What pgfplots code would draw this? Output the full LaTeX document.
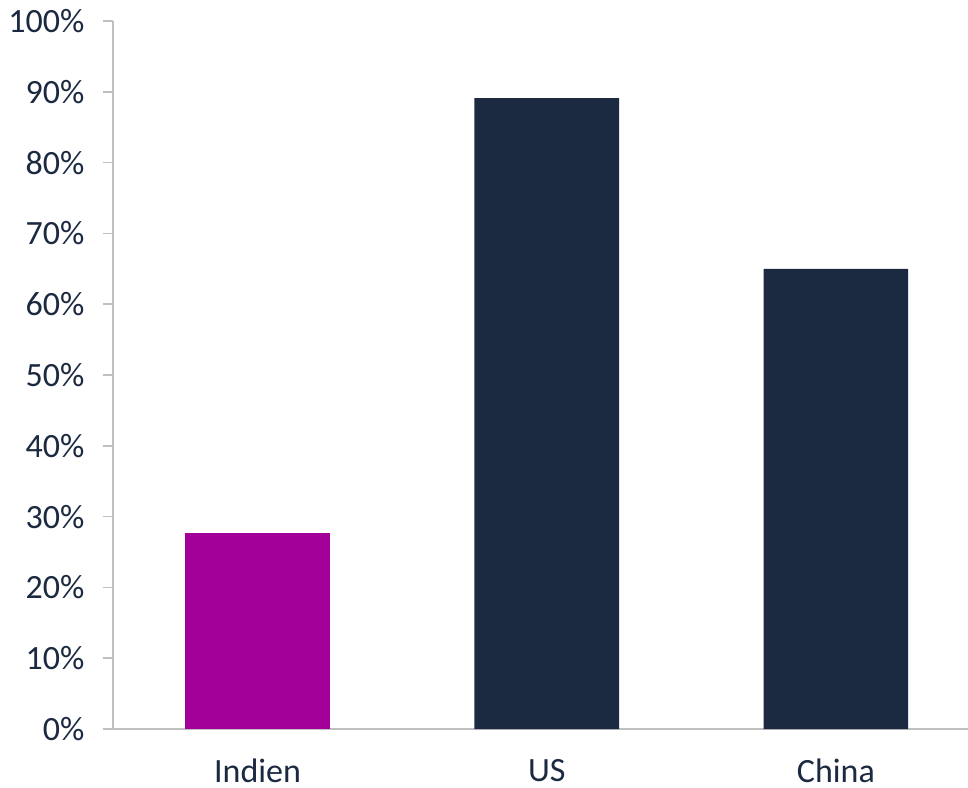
\documentclass[border=0pt]{standalone}
\usepackage{pgfplots}
\pgfplotsset{compat=1.18}
\usepackage{fontspec}
\setmainfont{Carlito}
\definecolor{navy}{HTML}{1B2A41}
\definecolor{mag}{HTML}{A3009A}
\definecolor{axgray}{HTML}{BFBFBF}
\begin{document}
\fontsize{34}{40}\selectfont
\begin{tikzpicture}
\begin{axis}[
  scale only axis, width=855pt, height=708pt,
  xmin=-0.5, xmax=2.457, ymin=0, ymax=100,
  axis x line*=bottom, axis y line*=left,
  axis line style={axgray, line width=1.5pt},
  tick align=outside,
  major tick length=10pt,
  tick style={axgray, line width=1.5pt},
  /pgf/number format/assume math mode=true,
  ytick={0,10,...,100},
  yticklabel={\pgfmathprintnumber{\tick}\%},
  yticklabel style={xshift=-7pt, text=navy, font=\fontsize{34}{40}\selectfont},
  xtick={0,1,2},
  xticklabels={Indien,US,China},
  xtick style={draw=none},
  xticklabel style={inner sep=0pt, yshift=-20pt, text=navy, font=\fontsize{34}{40}\selectfont},
  extra x ticks={-0.5,0.5,1.5},
  extra x tick labels={},
  extra x tick style={tick style={draw=axgray, line width=1.5pt}, major tick length=11pt},
]
\addplot[ybar, bar width=0.5, fill=mag, draw=none] coordinates {(0,27.7)};
\addplot[ybar, bar width=0.5, fill=navy, draw=none] coordinates {(1,89.1) (2,65.0)};
\end{axis}
\pgfresetboundingbox
\useasboundingbox (-113pt,-58pt) rectangle (855pt,729pt);
\end{tikzpicture}
\end{document}
